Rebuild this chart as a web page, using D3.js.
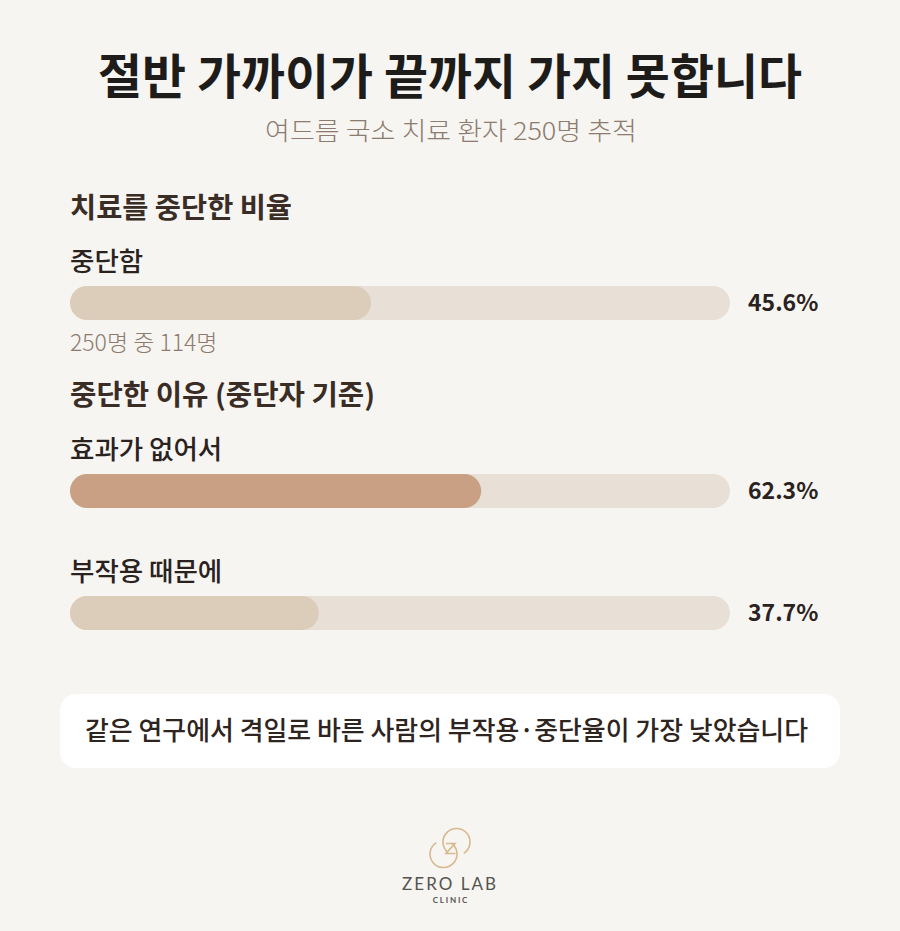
<!DOCTYPE html>
<html><head><meta charset="utf-8">
<script src="https://cdn.jsdelivr.net/npm/d3@7"></script>
<style>
html,body{margin:0;padding:0;background:#f7f5f1;}
svg{display:block;font-family:"Noto Sans CJK KR","Noto Sans",sans-serif;}
</style></head>
<body>
<svg id="chart" width="900" height="931"></svg>
<script>
const title = "절반 가까이가 끝까지 가지 못합니다";
const subtitle = "여드름 국소 치료 환자 250명 추적";
const sectionTitles = ["치료를 중단한 비율", "중단한 이유 (중단자 기준)"];
const categories = ["중단함", "효과가 없어서", "부작용 때문에"];
const values = [45.6, 62.3, 37.7];
const sections = [0, 1, 1];
const barColors = ["#dccdbb", "#c9a084", "#dccdbb"];
const subNotes = ["250명 중 114명", null, null];
const note = "같은 연구에서 격일로 바른 사람의 부작용·중단율이 가장 낮았습니다";
const brand = "ZERO LAB";
const brandSub = "CLINIC";

const svg = d3.select("#chart");
svg.append("rect").attr("width",900).attr("height",931).attr("fill","#f7f5f1");

svg.append("text").attr("x",450).attr("y",94).attr("text-anchor","middle")
  .attr("font-size",48).attr("font-weight",700).attr("fill","#1e1c1a")
  .attr("textLength",704).attr("lengthAdjust","spacingAndGlyphs").text(title);
svg.append("text").attr("x",451).attr("y",140).attr("text-anchor","middle")
  .attr("font-size",25).attr("font-weight",300).attr("fill","#8c7b6f")
  .attr("textLength",372).attr("lengthAdjust","spacingAndGlyphs").text(subtitle);

const x = d3.scaleLinear().domain([0,100]).range([70,730]);
const barH = 34;

const sectionY = [218, 405];
const sectionW = [222, 305];
sectionTitles.forEach((t,i)=>{
  svg.append("text").attr("x",70).attr("y",sectionY[i]).attr("font-size",28)
    .attr("font-weight",700).attr("fill","#3a2d26")
    .attr("textLength",sectionW[i]).attr("lengthAdjust","spacingAndGlyphs").text(t);
});

const labelY = [271, 459, 581];
const barY = [286, 474, 596];

categories.forEach((c,i)=>{
  const g = svg.append("g");
  g.append("text").attr("x",70).attr("y",labelY[i]).attr("font-size",26.5)
    .attr("font-weight",500).attr("fill","#2a221e").text(c);
  g.append("rect").attr("x",x(0)).attr("y",barY[i]).attr("width",x(100)-x(0))
    .attr("height",barH).attr("rx",barH/2).attr("fill","#e8dfd6");
  g.append("rect").attr("x",x(0)).attr("y",barY[i]).attr("width",x(values[i])-x(0))
    .attr("height",barH).attr("rx",barH/2).attr("fill",barColors[i]);
  g.append("text").attr("x",748).attr("y",barY[i]+barH/2).attr("dy","0.36em")
    .attr("font-size",23).attr("font-weight",700).attr("fill","#2a221e")
    .text(d3.format(".1f")(values[i])+"%");
  if(subNotes[i]){
    g.append("text").attr("x",70).attr("y",barY[i]+barH+31).attr("font-size",23)
      .attr("font-weight",300).attr("fill","#8c7b6f").text(subNotes[i]);
  }
});

// note box
svg.append("rect").attr("x",60).attr("y",694).attr("width",780).attr("height",74)
  .attr("rx",16).attr("fill","#ffffff");
svg.append("text").attr("x",446.5).attr("y",731).attr("dy","0.35em").attr("text-anchor","middle")
  .attr("font-size",26).attr("font-weight",500).attr("fill","#2e2420")
  .attr("textLength",723).attr("lengthAdjust","spacingAndGlyphs").text(note);

// logo
const lg = svg.append("g").attr("fill","none").attr("stroke","#d8b98e").attr("stroke-width",1.6);
lg.append("path").attr("d", d3.arc()({innerRadius:13.5,outerRadius:13.5,startAngle:-Math.PI*0.78,endAngle:Math.PI*0.82}))
  .attr("transform","translate(456.5,842)");
lg.append("path").attr("d", d3.arc()({innerRadius:13.5,outerRadius:13.5,startAngle:Math.PI*0.22,endAngle:Math.PI*1.82}))
  .attr("transform","translate(443.5,854)");
lg.append("path").attr("d","M446,843.5 L455,843.5 L446,853.5 L455.5,853.5").attr("stroke-linejoin","miter");

svg.append("text").attr("x",450).attr("y",890).attr("text-anchor","middle")
  .attr("font-size",17).attr("font-weight",400).attr("letter-spacing",2).attr("fill","#555350")
  .attr("font-family","Lato, 'Open Sans', sans-serif").text(brand);
svg.append("text").attr("x",451).attr("y",903).attr("text-anchor","middle")
  .attr("font-size",8).attr("font-weight",700).attr("letter-spacing",1.8).attr("fill","#555350")
  .attr("font-family","Lato, 'Open Sans', sans-serif").text(brandSub);
</script>
</body></html>
